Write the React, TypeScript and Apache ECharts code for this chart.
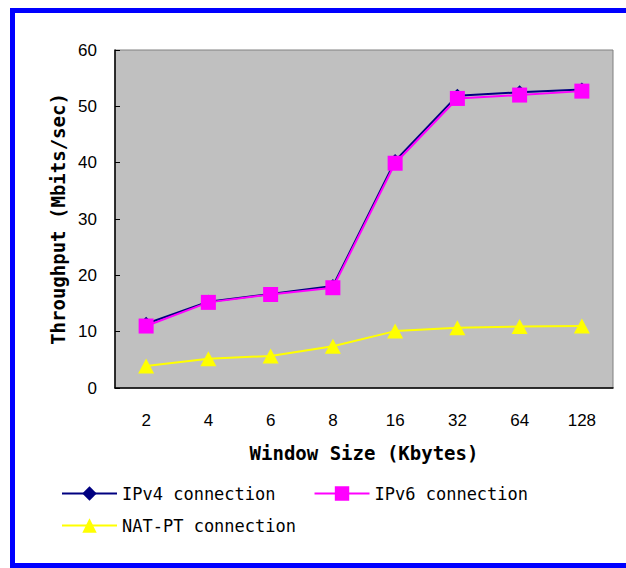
import React, { useEffect, useRef } from "react";
import * as echarts from "echarts";

const categories = ["2", "4", "6", "8", "16", "32", "64", "128"];
const ipv4 = [11.4, 15.3, 16.7, 18.1, 40.3, 51.9, 52.5, 53.0];
const ipv6 = [11.0, 15.2, 16.6, 17.8, 39.9, 51.4, 52.0, 52.7];
const natpt = [3.9, 5.2, 5.7, 7.4, 10.1, 10.7, 10.9, 11.0];
const yTicks = { min: 0, max: 60, interval: 10 };

const MONO = "DejaVu Sans Mono";
const SANS = "Liberation Sans";

export default function App() {
  const ref = useRef<HTMLDivElement>(null);
  useEffect(() => {
    if (!ref.current) return;
    const chart = echarts.init(ref.current, null, { renderer: "svg" });
    chart.setOption({
      animation: false,
      backgroundColor: "#ffffff",
      graphic: [
        {
          type: "rect",
          shape: { x: 12.5, y: 10.5, width: 640, height: 555 },
          style: { fill: "none", stroke: "#0000ff", lineWidth: 5 },
          z: 100,
        },
      ],
      grid: {
        left: 115,
        right: 13,
        top: 50,
        bottom: 180,
        show: true,
        backgroundColor: "#c0c0c0",
        borderColor: "#808080",
        borderWidth: 1,
      },
      legend: [
        {
          data: ["IPv4 connection", "IPv6 connection"],
          left: 56,
          top: 480,
          itemWidth: 55,
          itemHeight: 18,
          itemGap: 38,
          textStyle: { fontFamily: MONO, fontSize: 17, color: "#000" },
        },
        {
          data: ["NAT-PT connection"],
          left: 56,
          top: 512,
          itemWidth: 55,
          itemHeight: 18,
          textStyle: { fontFamily: MONO, fontSize: 17, color: "#000" },
        },
      ],
      xAxis: {
        type: "category",
        data: categories,
        boundaryGap: true,
        name: "Window Size (Kbytes)",
        nameLocation: "middle",
        nameGap: 55,
        nameTextStyle: { fontFamily: MONO, fontSize: 19, fontWeight: "bold", color: "#000" },
        axisLine: { lineStyle: { color: "#000", width: 1.5 } },
        axisTick: { inside: true, length: 6, lineStyle: { color: "#000" } },
        axisLabel: { fontFamily: SANS, fontSize: 17, color: "#000", margin: 24 },
        splitLine: { show: false },
      },
      yAxis: {
        type: "value",
        min: yTicks.min,
        max: yTicks.max,
        interval: yTicks.interval,
        name: "Throughput (Mbits/sec)",
        nameLocation: "middle",
        nameGap: 46,
        nameTextStyle: { fontFamily: MONO, fontSize: 19, fontWeight: "bold", color: "#000" },
        axisLine: { show: true, lineStyle: { color: "#000", width: 1.5 } },
        axisTick: { show: true, inside: true, length: 5, lineStyle: { color: "#000" } },
        axisLabel: { fontFamily: SANS, fontSize: 17, color: "#000", margin: 18 },
        splitLine: { show: false },
      },
      series: [
        {
          name: "IPv4 connection",
          type: "line",
          data: ipv4,
          symbol: "diamond",
          symbolSize: 14,
          lineStyle: { color: "#000080", width: 2 },
          itemStyle: { color: "#000080" },
        },
        {
          name: "IPv6 connection",
          type: "line",
          data: ipv6,
          symbol: "rect",
          symbolSize: 15,
          lineStyle: { color: "#ff00ff", width: 2 },
          itemStyle: { color: "#ff00ff" },
        },
        {
          name: "NAT-PT connection",
          type: "line",
          data: natpt,
          symbol: "triangle",
          symbolSize: [16, 15],
          lineStyle: { color: "#ffff00", width: 2 },
          itemStyle: { color: "#ffff00" },
        },
      ],
    });
    return () => chart.dispose();
  }, []);
  return <div ref={ref} style={{ width: 626, height: 568, position: "absolute", left: 0, top: 0 }} />;
}
